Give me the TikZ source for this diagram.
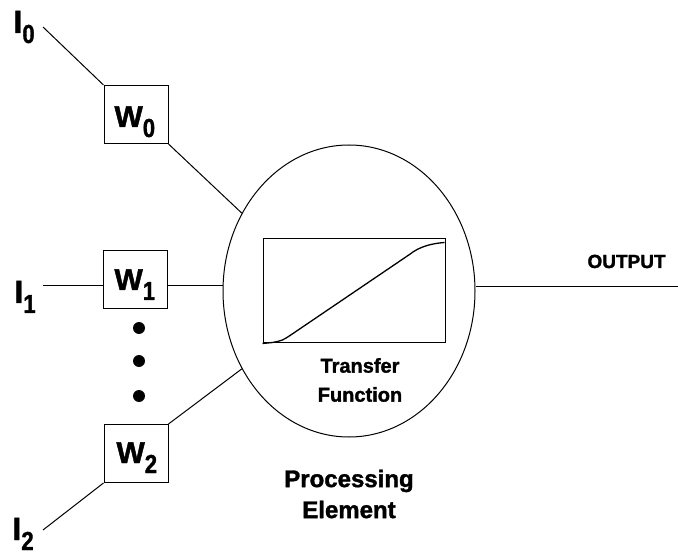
\documentclass[tikz,border=0pt]{standalone}
\usepackage{fontspec}
\setmainfont{Liberation Sans}[BoldFeatures={FakeBold=1.5}]
\usepackage{graphicx}
\usetikzlibrary{shapes.geometric}
\newcommand\sublab[3]{{\fontsize{#1}{#1}\selectfont\bfseries #2}\raisebox{-10pt}{\fontsize{26}{26}\selectfont\bfseries\scalebox{0.85}[1]{#3}}}
\begin{document}
\begin{tikzpicture}[x=1pt,y=-1pt, line width=1pt,
  wbox/.style={draw, rectangle, minimum width=64pt, minimum height=58pt, inner sep=0pt},
  lab/.style={inner sep=0pt, anchor=base west},
  dotn/.style={circle, fill, minimum size=12pt, inner sep=0pt},
  pe/.style={draw, ellipse, minimum width=252pt, minimum height=292pt, inner sep=0pt},
  tfbox/.style={draw, rectangle, minimum width=182pt, minimum height=104pt, inner sep=0pt},
  txt/.style={align=center, inner sep=0pt}]
\useasboundingbox (0,0) rectangle (678,556);

% processing element
\node[pe] (PE) at (349,291) {};
\node[tfbox] (TF) at (354,291) {};
\begin{scope}[shift={(TF.south west)}]
  \draw[line width=1.3pt] (0,0) -- (10,-1) .. controls (20,-3) .. (29,-9) -- (147,-89)
    .. controls (157,-97) and (169,-100) .. (182,-101);
\end{scope}
\node[txt, font=\fontsize{20}{29}\selectfont\bfseries] (tft) at (360,380) {Transfer\\Function};
\node[txt, font=\fontsize{24}{31}\selectfont\bfseries] (pet) at (349,494) {Processing\\Element};

% weight boxes
\node[wbox] (W0) at (136,114.5) {};
\node[wbox] (W1) at (135.5,279.5) {};
\node[wbox] (W2) at (136,453.5) {};
\node[lab] (W0l) at (114,127) {\sublab{30}{W}{0}};
\node[lab] (W1l) at (114,290) {\sublab{30}{W}{1}};
\node[lab] (W2l) at (116,463) {\sublab{30}{W}{2}};

% inputs
\node[lab] (I0) at (13,33) {\sublab{32}{I}{0}};
\node[lab] (I1) at (14,303) {\sublab{32}{I}{1}};
\node[lab] (I2) at (12,540) {\sublab{32}{I}{2}};
\coordinate (a0) at (43,27);
\coordinate (a1) at (43,286);
\coordinate (a2) at (43,530);

% dots
\node[dotn] (d1) at (139,328) {};
\node[dotn] (d2) at (139,361) {};
\node[dotn] (d3) at (139,396) {};

% connectors
\draw (a0) -- (W0.north west);
\draw (W0.south east) -- (PE.144);
\draw (a1) -- (a1 -| W1.west);
\draw (a1 -| W1.east) -- (a1 -| PE.west);
\draw (W2.north east) -- (PE.216);
\draw (W2.south west) -- (a2);

% output
\coordinate (out) at (678,287);
\draw (out -| PE.east) -- (out);
\node[lab, font=\fontsize{19}{19}\selectfont\bfseries] (outl) at (587,268) {OUTPUT};
\end{tikzpicture}
\end{document}
